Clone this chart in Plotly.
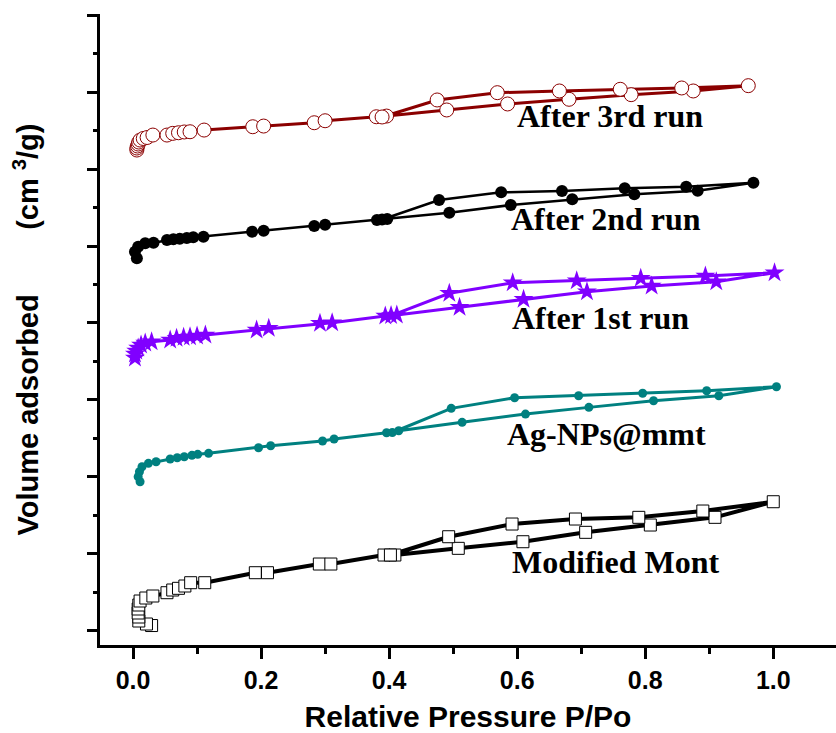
import plotly.graph_objects as go

# ---- data (relative pressure P/Po, volume adsorbed in arbitrary offset units) ----
mont_x = [0.029, 0.021, 0.009, 0.009, 0.008, 0.008, 0.009, 0.011, 0.020, 0.031, 0.053, 0.062,
          0.071, 0.081, 0.090, 0.112, 0.191, 0.210, 0.291, 0.309, 0.392, 0.409,
          0.508, 0.609, 0.707, 0.808, 0.909, 1.000,
          0.890, 0.790, 0.691, 0.592, 0.493, 0.402]
mont_y = [6.5, 8.5, 12.4, 17.6, 22.8, 28.0, 33.2, 38.4, 42.3, 44.9, 49.2, 52.7,
          54.9, 57.9, 62.2, 62.2, 75.2, 75.2, 86.5, 86.5, 98.2, 98.2,
          106.9, 115.5, 127.7, 137.2, 147.2, 167.5,
          155.4, 147.2, 145.0, 138.5, 122.0, 98.2]

ag_x = [0.011, 0.008, 0.010, 0.014, 0.024, 0.036, 0.058, 0.069, 0.080, 0.092, 0.101, 0.118,
        0.196, 0.215, 0.296, 0.314, 0.396, 0.415,
        0.514, 0.613, 0.712, 0.813, 0.915, 1.005,
        0.896, 0.796, 0.696, 0.596, 0.497, 0.405]
ag_y = [193.5, 200.0, 206.5, 213.0, 217.4, 219.5, 223.0, 224.7, 226.0, 227.8, 229.1, 230.4,
        237.7, 240.3, 246.4, 249.0, 257.2, 259.8,
        270.7, 281.5, 290.2, 298.8, 305.3, 317.0,
        311.8, 308.5, 305.3, 302.7, 288.9, 257.5]

run1_x = [0.003, 0.003, 0.005, 0.008, 0.0125, 0.019, 0.029, 0.058, 0.068, 0.079, 0.089, 0.100,
          0.113, 0.193, 0.212, 0.292, 0.311, 0.394, 0.412,
          0.510, 0.610, 0.709, 0.810, 0.911, 1.002,
          0.894, 0.793, 0.693, 0.593, 0.494, 0.403]
run1_y = [354.4, 359.6, 363.5, 367.4, 371.3, 373.9, 375.6, 377.8, 380.0, 381.3, 382.1, 383.0,
          384.3, 390.8, 393.0, 399.5, 400.3, 409.0, 410.3,
          420.3, 430.7, 440.6, 448.0, 453.6, 465.3,
          461.0, 458.0, 454.9, 452.3, 438.5, 409.6]

run2_x = [0.006, 0.003, 0.008, 0.019, 0.032, 0.053, 0.063, 0.073, 0.084, 0.094, 0.110,
          0.186, 0.204, 0.283, 0.300, 0.381, 0.397,
          0.494, 0.590, 0.686, 0.783, 0.882, 0.969,
          0.864, 0.768, 0.670, 0.575, 0.478, 0.389]
run2_y = [484.0, 492.6, 499.1, 503.5, 504.3, 507.8, 508.7, 509.5, 510.4, 511.3, 512.1,
          518.6, 519.9, 526.0, 527.7, 533.8, 535.1,
          543.3, 553.3, 560.7, 567.2, 571.9, 582.3,
          577.1, 575.0, 571.5, 569.8, 559.8, 534.5]

run3_x = [0.006, 0.006, 0.007, 0.008, 0.009, 0.011, 0.016, 0.022, 0.031, 0.053, 0.062, 0.071,
          0.080, 0.089, 0.111, 0.187, 0.204, 0.283, 0.300, 0.380, 0.396,
          0.490, 0.585, 0.681, 0.778, 0.875, 0.961,
          0.857, 0.761, 0.666, 0.569, 0.475, 0.389]
run3_y = [624.8, 627.4, 630.0, 632.6, 635.2, 637.8, 639.8, 641.1, 644.3, 644.3, 646.5, 647.3,
          648.3, 648.6, 650.8, 655.1, 656.0, 660.3, 662.9, 668.1, 669.0,
          676.9, 684.7, 690.8, 696.8, 701.6, 708.5,
          705.5, 703.8, 701.6, 699.4, 689.9, 667.8]

labels = ["Modified Mont", "Ag-NPs@mmt", "After 1st run", "After 2nd run", "After 3rd run"]
label_x = [0.589, 0.581, 0.589, 0.587, 0.597]
label_y = [89.0, 256.0, 406.0, 535.0, 669.0]

x_ticks = [0.0, 0.2, 0.4, 0.6, 0.8, 1.0]

fig = go.Figure()

fig.add_trace(go.Scatter(x=mont_x, y=mont_y, mode="lines+markers",
                         line=dict(color="black", width=4),
                         marker=dict(symbol="square", size=12, color="white",
                                     line=dict(color="black", width=1))))
fig.add_trace(go.Scatter(x=ag_x, y=ag_y, mode="lines+markers",
                         line=dict(color="#008080", width=3),
                         marker=dict(symbol="circle", size=9, color="#008080")))
fig.add_trace(go.Scatter(x=run1_x, y=run1_y, mode="lines+markers",
                         line=dict(color="#8000FF", width=3),
                         marker=dict(symbol="star", size=15, color="#8000FF")))
fig.add_trace(go.Scatter(x=run2_x, y=run2_y, mode="lines+markers",
                         line=dict(color="black", width=2.5),
                         marker=dict(symbol="circle", size=12, color="black")))
fig.add_trace(go.Scatter(x=run3_x, y=run3_y, mode="lines+markers",
                         line=dict(color="#8B0000", width=3),
                         marker=dict(symbol="circle", size=14, color="white",
                                     line=dict(color="#8B0000", width=1))))

for t, lx, ly in zip(labels, label_x, label_y):
    fig.add_annotation(x=lx, y=ly, xref="x", yref="y", text=t, showarrow=False,
                       xanchor="left", yanchor="middle",
                       font=dict(family="Liberation Serif, Times New Roman, serif",
                                 size=32, color="black", weight="bold"))

nb = "\u00a0"
fig.update_layout(
    width=836, height=733,
    margin=dict(l=100, r=0, t=14, b=88),
    paper_bgcolor="white", plot_bgcolor="white",
    showlegend=False,
    font=dict(family="Liberation Sans, Arial, sans-serif", color="black"),
)
fig.update_xaxes(
    automargin=False,
    range=[-0.0516, 1.098], showgrid=False, zeroline=False,
    showline=True, linewidth=3, linecolor="black",
    ticks="outside", ticklen=11, tickwidth=3, tickcolor="black",
    tickvals=x_ticks, ticktext=[f"{v:.1f}" for v in x_ticks],
    tickfont=dict(size=25, weight="bold"),
    minor=dict(ticks="outside", dtick=0.1, ticklen=6, tickwidth=3, tickcolor="black", showgrid=False),
    title=dict(text="Relative Pressure P/Po", font=dict(size=30, weight="bold"), standoff=18),
)
fig.update_yaxes(
    automargin=False,
    range=[-18.8, 801.7], showgrid=False, zeroline=False,
    showline=True, linewidth=3, linecolor="black",
    ticks="outside", ticklen=10, tickwidth=3, tickcolor="black",
    dtick=100, tick0=0, showticklabels=False,
    minor=dict(ticks="outside", dtick=50, ticklen=4, tickwidth=3, tickcolor="black", showgrid=False),
    title=dict(text="Volume adsorbed" + nb * 8 + "(cm" + nb + "<sup>3</sup>/g)" + nb * 4,
               font=dict(size=29, weight="bold"), standoff=40),
)

fig.write_html("out.html", config={"displayModeBar": False},
               post_script="document.body.style.margin='0';document.body.style.overflow='hidden';")
